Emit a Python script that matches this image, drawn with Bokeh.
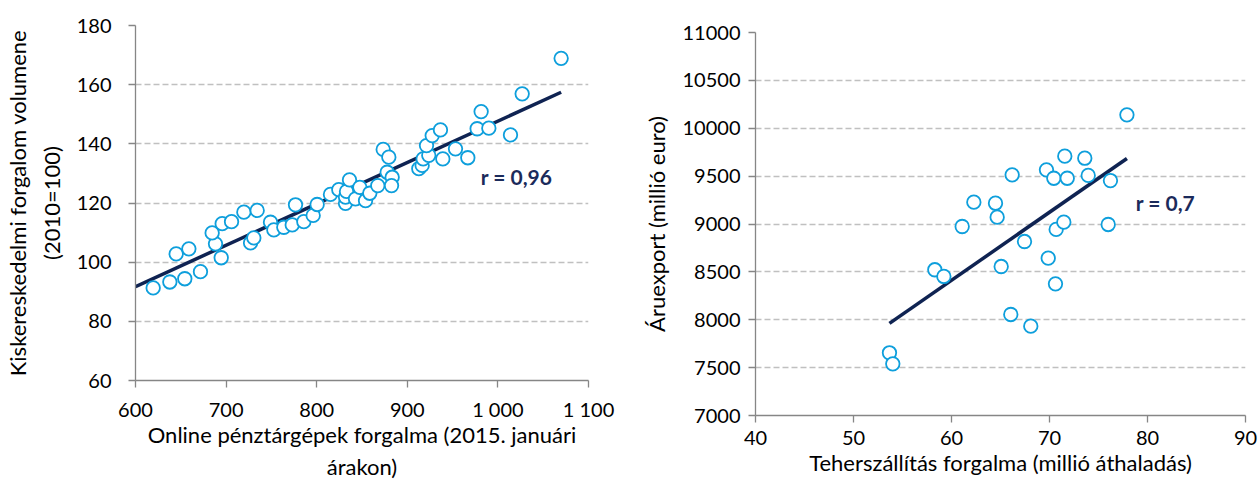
import numpy as np
from bokeh.plotting import figure
from bokeh.layouts import row, column
from bokeh.models import FixedTicker, Label, Range1d
from bokeh.embed import file_html
from bokeh.resources import INLINE

# ---- Left chart data: online cash register turnover vs retail volume ----
cash_turnover = [619.5, 637.9, 654.4, 671.7, 644.9, 658.9, 694.6, 688.3, 684.6, 695.7,
                 706.0, 719.6, 734.3, 727.0, 730.6, 749.0, 752.7, 763.7, 773.0, 776.6,
                 785.8, 796.1, 800.5, 815.2, 824.4, 831.8, 831.8, 832.9, 836.2, 842.8,
                 847.6, 853.9, 858.6, 867.4, 873.4, 879.6, 877.8, 883.3, 882.6, 912.7,
                 916.4, 917.5, 923.7, 921.2, 927.5, 936.6, 939.2, 953.2, 966.8, 977.1,
                 981.5, 990.0, 1013.9, 1026.8, 1069.8]
retail_volume = [91.3, 93.3, 94.4, 96.8, 102.8, 104.5, 101.5, 106.2, 109.9, 113.0,
                 113.7, 116.9, 117.5, 106.5, 108.2, 113.5, 110.9, 111.8, 112.6, 119.4,
                 113.7, 115.8, 119.5, 122.9, 124.5, 119.9, 122.0, 123.9, 127.8, 121.4,
                 125.3, 120.8, 123.3, 125.9, 138.1, 135.5, 130.4, 128.7, 125.9, 131.6,
                 132.7, 134.9, 136.1, 139.4, 142.8, 144.7, 134.9, 138.3, 135.3, 145.1,
                 150.9, 145.3, 143.0, 156.9, 168.9]
left_x_ticks = [600, 700, 800, 900, 1000, 1100]
left_x_tick_labels = ["600", "700", "800", "900", "1 000", "1 100"]
left_y_ticks = [60, 80, 100, 120, 140, 160, 180]
left_x_title = "Online pénztárgépek forgalma (2015. januári\nárakon)"
left_y_title = "Kiskereskedelmi forgalom volumene\n(2010=100)"
left_r_text = "r = 0,96"

# ---- Right chart data: freight traffic vs goods export ----
freight_traffic = [53.67, 54.01, 58.30, 59.22, 61.09, 62.28, 64.49, 64.66, 65.07, 66.19,
                   66.05, 67.45, 68.09, 69.69, 69.87, 70.44, 70.61, 70.68, 71.46, 71.56,
                   71.81, 73.60, 73.95, 76.22, 75.99, 77.90]
goods_export = [7655, 7540, 8522, 8452, 8974, 9228, 9217, 9071, 8556, 9514,
                8055, 8817, 7933, 9566, 8643, 9478, 8375, 8943, 9019, 9708,
                9478, 9687, 9507, 9454, 8995, 10140]
right_x_ticks = [40, 50, 60, 70, 80, 90]
right_y_ticks = [7000, 7500, 8000, 8500, 9000, 9500, 10000, 10500, 11000]
right_x_title = "Teherszállítás forgalma (millió áthaladás)"
right_y_title = "Áruexport (millió euro)"
right_r_text = "r = 0,7"

FONT = "Lato"
AXIS_COL = "#868686"
GRID_COL = "#c0c0c0"
MARK_COL = "#0e9fdc"
LINE_COL = "#0f2352"
R_COL = "#1b2b5b"


def style(p):
    p.outline_line_color = None
    p.xgrid.grid_line_color = None
    p.ygrid.grid_line_color = GRID_COL
    p.ygrid.grid_line_dash = "6 3"
    p.ygrid.grid_line_width = 1.3
    if "frame_align" in p.properties():
        p.frame_align = False
    for ax in (p.xaxis[0], p.yaxis[0]):
        ax.axis_line_color = AXIS_COL
        ax.axis_line_width = 1.3
        ax.major_tick_line_color = AXIS_COL
        ax.major_tick_line_width = 1.3
        ax.major_tick_out = 7
        ax.major_tick_in = 0
        ax.minor_tick_line_color = None
        ax.major_label_text_font = FONT
        ax.major_label_text_font_size = "20px"
        ax.major_label_text_color = "#000000"
        ax.axis_label_text_font = FONT
        ax.axis_label_text_font_size = "22px"
        ax.axis_label_text_font_style = "normal"
        ax.axis_label_text_color = "#000000"
        ax.axis_label_text_line_height = 1.25


# ---- left figure ----
p1 = figure(width=628, height=482, x_range=Range1d(600, 1100), y_range=Range1d(60, 180),
            output_backend="svg", toolbar_location=None,
            min_border_left=135, min_border_right=40, min_border_top=25, min_border_bottom=102)
style(p1)
p1.xaxis.ticker = FixedTicker(ticks=left_x_ticks)
p1.xaxis.major_label_overrides = {t: l for t, l in zip(left_x_ticks, left_x_tick_labels)}
p1.yaxis.ticker = FixedTicker(ticks=left_y_ticks)
p1.xaxis.major_label_standoff = 9
p1.yaxis.major_label_standoff = 17
p1.xaxis.axis_label = left_x_title
p1.xaxis.axis_label_text_line_height = 1.2
p1.yaxis.axis_label = left_y_title
p1.xaxis.axis_label_standoff = -3
p1.yaxis.axis_label_standoff = 9

k1, b1 = np.polyfit(cash_turnover, retail_volume, 1)
tx1 = np.array([600.0, max(cash_turnover)])
p1.line(tx1, k1 * tx1 + b1, line_color=LINE_COL, line_width=3.5)
p1.scatter(cash_turnover, retail_volume, marker="circle", size=13.5,
           line_color=MARK_COL, line_width=1.8, fill_color="white")
p1.add_layout(Label(x=981, y=129, text=left_r_text, text_font=FONT, text_font_style="bold",
                    text_font_size="21px", text_color=R_COL, text_baseline="middle"))

# ---- right figure ----
p2 = figure(width=631, height=482, x_range=Range1d(40, 90), y_range=Range1d(7000, 11000),
            output_backend="svg", toolbar_location=None,
            min_border_left=127, min_border_right=14, min_border_top=32, min_border_bottom=67)
style(p2)
p2.xaxis.ticker = FixedTicker(ticks=right_x_ticks)
p2.yaxis.ticker = FixedTicker(ticks=right_y_ticks)
p2.yaxis.formatter.use_scientific = False
p2.xaxis.major_label_standoff = 8
p2.yaxis.major_label_standoff = 8
p2.xaxis.axis_label = right_x_title
p2.xaxis.axis_label_text_line_height = 1.2
p2.yaxis.axis_label = right_y_title
p2.xaxis.axis_label_standoff = 1
p2.yaxis.axis_label_standoff = 10

k2, b2 = np.polyfit(freight_traffic, goods_export, 1)
tx2 = np.array([min(freight_traffic), max(freight_traffic)])
p2.line(tx2, k2 * tx2 + b2, line_color=LINE_COL, line_width=3.5)
p2.scatter(freight_traffic, goods_export, marker="circle", size=13.5,
           line_color=MARK_COL, line_width=1.8, fill_color="white")
p2.add_layout(Label(x=78.8, y=9225, text=right_r_text, text_font=FONT, text_font_style="bold",
                    text_font_size="21px", text_color=R_COL, text_baseline="middle"))

layout = row(column(p1), column(p2))
open("out.html", "w").write(file_html(layout, INLINE))
